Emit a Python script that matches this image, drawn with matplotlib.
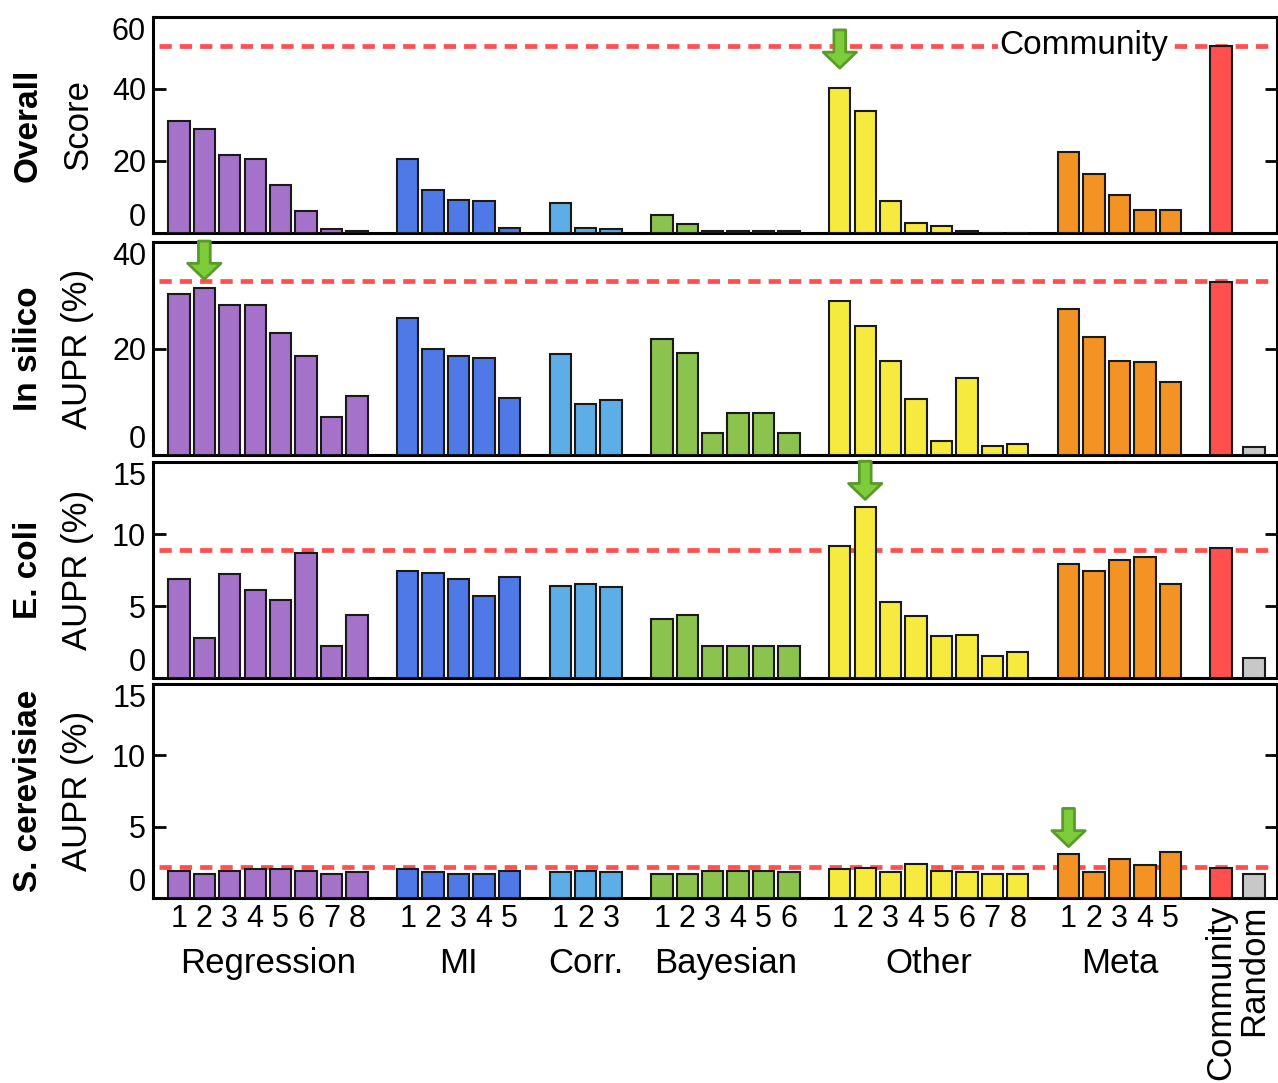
import matplotlib
matplotlib.use("Agg")
import matplotlib.pyplot as plt
from matplotlib.transforms import blended_transform_factory

plt.rcParams["font.family"] = ["Liberation Sans", "DejaVu Sans"]

# method groups
groups = ["Regression", "MI", "Corr.", "Bayesian", "Other", "Meta"]
group_sizes = [8, 5, 3, 6, 8, 5]
group_colors = ["#A473C9", "#5079E8", "#5DADE6", "#8BC34E", "#F6EA3F", "#F39324"]
community_color = "#FF4F4F"
random_color = "#C8C8C8"

row_titles = ["Overall", "In silico", "E. coli", "S. cerevisiae"]
row_units = ["Score", "AUPR (%)", "AUPR (%)", "AUPR (%)"]
y_max = [60, 40, 15, 15]
y_ticks = [[0, 20, 40, 60], [0, 20, 40], [0, 5, 10, 15], [0, 5, 10, 15]]

# values per method, in group order
overall = [31.0, 28.8, 21.6, 20.6, 13.4, 6.1, 1.1, 0.6,
           20.6, 11.9, 9.3, 8.8, 1.5,
           8.3, 1.5, 1.0,
           5.1, 2.4, 0.5, 0.5, 0.5, 0.5,
           40.2, 33.8, 8.8, 2.9, 1.9, 0.5, 0.0, 0.0,
           22.4, 16.5, 10.6, 6.5, 6.5]
in_silico = [30.2, 31.4, 28.1, 28.1, 22.9, 18.6, 7.1, 11.0,
             25.7, 19.9, 18.6, 18.3, 10.7,
             18.9, 9.5, 10.4,
             21.8, 19.1, 4.2, 7.8, 7.8, 4.2,
             28.9, 24.3, 17.6, 10.6, 2.7, 14.5, 1.7, 2.0,
             27.4, 22.2, 17.6, 17.4, 13.7]
e_coli = [6.9, 2.8, 7.2, 6.1, 5.4, 8.7, 2.2, 4.4,
          7.4, 7.3, 6.9, 5.7, 7.0,
          6.4, 6.5, 6.3,
          4.1, 4.4, 2.2, 2.2, 2.2, 2.2,
          9.2, 11.9, 5.3, 4.3, 2.9, 3.0, 1.5, 1.8,
          7.9, 7.4, 8.2, 8.4, 6.5]
s_cerevisiae = [1.9, 1.7, 1.9, 2.0, 2.0, 1.9, 1.7, 1.8,
                2.0, 1.8, 1.7, 1.7, 1.9,
                1.8, 1.9, 1.8,
                1.7, 1.7, 1.9, 1.9, 1.9, 1.8,
                2.0, 2.1, 1.8, 2.4, 1.9, 1.8, 1.7, 1.7,
                3.1, 1.8, 2.7, 2.3, 3.2]
rows = [overall, in_silico, e_coli, s_cerevisiae]
community = [52.0, 32.5, 9.0, 2.1]
community_line = [52.0, 32.6, 8.9, 2.2]
random_vals = [0.0, 1.5, 1.4, 1.7]

# best performer arrows: index of method and arrow tip value
arrow_idx = [22, 1, 23, 30]
arrow_tip = [45.8, 33.0, 12.4, 3.6]

# x positions: one empty slot between groups
xs, cols, digits, centers = [], [], [], []
pos = 0
for n, c in zip(group_sizes, group_colors):
    gx = list(range(pos, pos + n))
    xs += gx
    cols += [c] * n
    digits += [str(i + 1) for i in range(n)]
    centers.append((gx[0] + gx[-1]) / 2)
    pos += n + 1
x_comm = pos
x_rand = pos + 1.3

fig = plt.figure(figsize=(12.78, 10.83), dpi=100)
H = 1083.0
tops = [17, 242, 462, 684]
bots = [233, 455, 678, 898]
left, right = 153 / 1278, 1277 / 1278

axes = []
for r in range(4):
    ax = fig.add_axes([left, 1 - bots[r] / H, right - left, (bots[r] - tops[r]) / H])
    axes.append(ax)
    vals = rows[r]
    ax.bar(xs, vals, width=0.84, color=cols, edgecolor="#1a1a1a", linewidth=1.5, zorder=3)
    ax.bar([x_comm], [community[r]], width=0.84, color=community_color,
           edgecolor="#1a1a1a", linewidth=1.5, zorder=3)
    if random_vals[r] > 0:
        ax.bar([x_rand], [random_vals[r]], width=0.84, color=random_color,
               edgecolor="#1a1a1a", linewidth=1.5, zorder=3)
    ax.axhline(community_line[r], color="#FF4F4F", lw=3.4, ls=(0, (2.6, 1.7)), zorder=2,
               xmin=0.005)

    ax.set_xlim(-1.02, 43.2)
    ax.set_ylim(0, y_max[r])
    ax.set_yticks(y_ticks[r])
    ax.set_yticklabels([str(t) for t in y_ticks[r]], fontsize=22)
    labs = ax.get_yticklabels()
    labs[0].set_va("bottom")
    labs[-1].set_va("top")
    ax.tick_params(axis="y", direction="in", length=9, width=2, left=True, right=True, pad=5)
    ax.set_xticks([])
    for s in ax.spines.values():
        s.set_linewidth(2.2)

    # row labels
    yc = 1 - (tops[r] + bots[r]) / 2 / H
    fig.text(0.022, yc, row_titles[r], rotation=90, ha="center", va="center",
             fontsize=24, fontweight="bold")
    fig.text(0.061, yc, row_units[r], rotation=90, ha="center", va="center", fontsize=25)

    # arrow marking the best performer
    ax.annotate("", xy=(xs[arrow_idx[r]], arrow_tip[r]), xytext=(0, 27.5),
                textcoords="offset points",
                arrowprops=dict(arrowstyle="simple,head_length=11.5,head_width=24,tail_width=8.5",
                                mutation_scale=1, fc="#7DCC3A", ec="#5A9A2A", lw=2,
                                shrinkA=0, shrinkB=0),
                zorder=5)

axes[0].text(35.6, community_line[0], "Community",
             fontsize=24, ha="center", va="center", zorder=4,
             bbox=dict(facecolor="white", edgecolor="none", pad=1))

# bottom labels
ax = axes[-1]
tr = blended_transform_factory(ax.transData, ax.transAxes)
for x, d in zip(xs, digits):
    ax.text(x, -0.03, d, transform=tr, ha="center", va="top", fontsize=22)
for cx, g in zip(centers, groups):
    ax.text(cx, -0.23, g, transform=tr, ha="center", va="top", fontsize=25)
ax.text(x_comm, -0.03, "Community", transform=tr, rotation=90, ha="center", va="top", fontsize=25)
ax.text(x_rand, -0.03, "Random", transform=tr, rotation=90, ha="center", va="top", fontsize=25)

fig.savefig("out.png", dpi=100)
